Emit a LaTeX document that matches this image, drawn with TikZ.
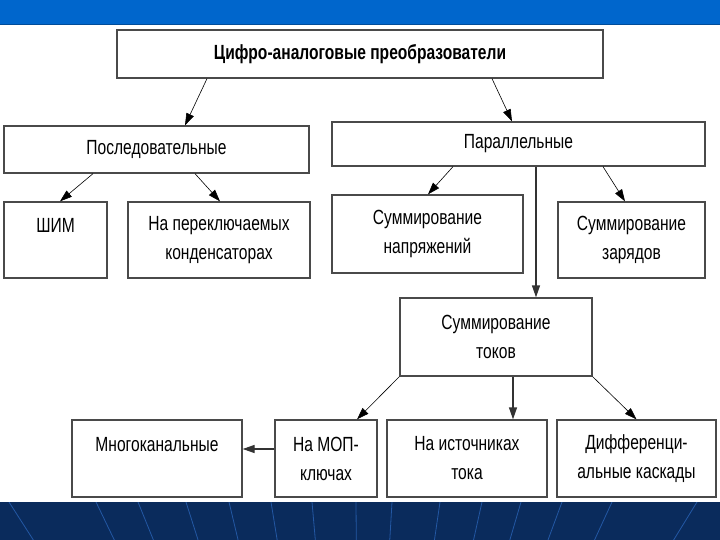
\documentclass[tikz,border=0pt]{standalone}
\usepackage{fontspec}
\setmainfont{Liberation Sans}[FakeStretch=0.76]
\usepackage{tikz}
\usetikzlibrary{
  arrows.meta,
  positioning,
  calc
}
\definecolor{dcBar}{HTML}{0066CC}
\definecolor{dcBarEdge}{HTML}{004C99}
\definecolor{dcBand}{HTML}{0A2B5C}
\definecolor{dcRay}{HTML}{2358A4}
\definecolor{dcEdge}{HTML}{4A4A4A}
\tikzset{
  dcnode/.style={
    draw=dcEdge, line width=1.3pt, fill=white, inner sep=0pt,
    font=\fontsize{20.5}{29}\selectfont, align=center
  },
  dcbox/.style 2 args={dcnode, minimum width=#1, minimum height=#2},
  titlebox/.style={dcbox={486pt}{48pt}, font=\fontsize{20.5}{29}\selectfont\bfseries},
  flow/.style={-{Triangle[length=12pt, width=8pt]}, line width=0.6pt, black},
  flowbold/.style={-{Triangle[length=12pt, width=8pt]}, line width=1.3pt, black!80},
  ray/.style={dcRay, line width=0.8pt}
}
\begin{document}
\begin{tikzpicture}[x=1pt, y=-1pt]
  \useasboundingbox (0,0) rectangle (720,540);
  % slide frame
  \fill[white] (0,0) rectangle (720,540);
  \fill[dcBar] (0,0) rectangle (720,24);
  \fill[dcBarEdge] (0,24) rectangle (720,25.5);
  \fill[dcBand] (0,502) rectangle (720,540);
  \begin{scope}
    \clip (0,502) rectangle (720,540);
    \foreach \xr in {9,96,138,186,229,271,312,356,392,440,482,521,562,612,697}
      \draw[ray] (360,1050) -- (\xr,502);
  \end{scope}
  % boxes
  \node[titlebox] (dac) at (360,54) {Цифро-аналоговые преобразователи};
  \node[dcbox={305pt}{47pt}] (serial) at (156.5,149.5) {Последовательные};
  \node[dcbox={373pt}{44pt}] (parallel) at (518.5,144) {Параллельные};
  \node[dcbox={103pt}{76pt}] (pwm) at (55.5,240) {ШИМ\\\mbox{}};
  \node[dcbox={182pt}{76pt}] (swcap) at (219,240) {На переключаемых\\конденсаторах};
  \node[dcbox={191pt}{78pt}] (vsum) at (427.5,234) {Суммирование\\напряжений};
  \node[dcbox={147pt}{76pt}] (qsum) at (631.5,240) {Суммирование\\зарядов};
  \node[dcbox={192pt}{78pt}] (isum) at (496,337) {Суммирование\\токов};
  \node[dcbox={170pt}{77pt}] (multi) at (157,458.5) {Многоканальные\\\mbox{}};
  \node[dcbox={102pt}{77pt}] (mos) at (326,458.5) {На МОП-\\ключах};
  \node[dcbox={160pt}{77pt}] (cursrc) at (467,458.5) {На источниках\\тока};
  \node[dcbox={159pt}{77pt}] (diffamp) at (636.5,458.5) {Дифференци-\\альные каскады};
  % connectors
  \draw[flow] ([xshift=-153pt]dac.south) -- ([xshift=28.5pt]serial.north);
  \draw[flow] ([xshift=132pt]dac.south) -- ([xshift=-6.5pt]parallel.north);
  \draw[flow] ([xshift=-63.5pt]serial.south) -- ([xshift=4.5pt]pwm.north);
  \draw[flow] ([xshift=38.5pt]serial.south) -- ([xshift=1pt]swcap.north);
  \draw[flow] ([xshift=-65.5pt]parallel.south) -- ([xshift=0.5pt]vsum.north);
  \draw[flow] ([xshift=84.5pt]parallel.south) -- ([xshift=-6.5pt]qsum.north);
  \draw[flowbold] ([xshift=17.5pt]parallel.south) -- ([xshift=17.5pt]parallel.south |- isum.north);
  \draw[flow] (isum.south west) -- ([xshift=31pt]mos.north);
  \draw[flowbold] ([xshift=17pt]isum.south) -- ([xshift=17pt]isum.south |- cursrc.north);
  \draw[flow] (isum.south east) -- (diffamp.north);
  \draw[flowbold] ([yshift=9.5pt]mos.west) -- ([yshift=9.5pt]multi.east);
\end{tikzpicture}
\end{document}
